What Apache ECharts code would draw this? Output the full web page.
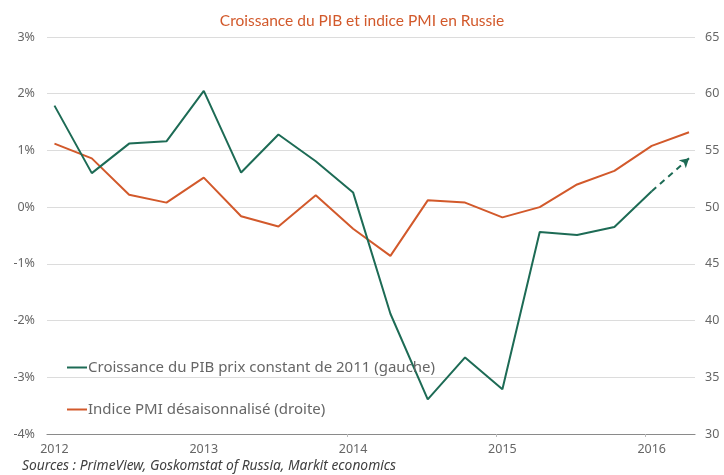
<!DOCTYPE html>
<html>
<head>
<meta charset="utf-8">
<script src="https://cdn.jsdelivr.net/npm/echarts@6/dist/echarts.min.js"></script>
<style>html,body{margin:0;padding:0;background:#fff}#c{width:724px;height:475px}</style>
</head>
<body>
<div id="c"></div>
<script>
var quarters = [2012.00, 2012.25, 2012.50, 2012.75, 2013.00, 2013.25, 2013.50, 2013.75,
                2014.00, 2014.25, 2014.50, 2014.75, 2015.00, 2015.25, 2015.50, 2015.75,
                2016.00, 2016.25];
var gdp = [1.79, 0.60, 1.12, 1.16, 2.05, 0.61, 1.28, 0.81,
           0.26, -1.88, -3.39, -2.65, -3.21, -0.44, -0.49, -0.35,
           0.28, null];
var gdpProjection = 0.86;
var pmi = [55.6, 54.3, 51.1, 50.4, 52.6, 49.2, 48.3, 51.05,
           48.1, 45.7, 50.6, 50.4, 49.1, 50.0, 52.0, 53.2,
           55.4, 56.6];
var yearLabels = [2012, 2013, 2014, 2015, 2016];
var seriesNames = ['Croissance du PIB prix constant de 2011 (gauche)', 'Indice PMI désaisonnalisé (droite)'];
var titleText = 'Croissance du PIB et indice PMI en Russie';
var sourceText = 'Sources : PrimeView, Goskomstat of Russia, Markit economics';

var GREEN = '#1d6b55', ORANGE = '#d2592b', GREY = '#666666';
function pairs(xs, ys) { return xs.map(function (x, i) { return [x, ys[i]]; }); }

var chart = echarts.init(document.getElementById('c'), null, {renderer: 'canvas'});
chart.setOption({
  animation: false,
  title: {
    text: titleText, left: 'center', top: 8,
    textStyle: {color: ORANGE, fontSize: 15.5, fontWeight: 'normal', fontFamily: 'Lato'}
  },
  grid: {left: 47, right: 29, top: 37, bottom: 41, containLabel: false},
  legend: {
    orient: 'vertical', left: 62, top: 355, itemGap: 27,
    itemWidth: 20, itemHeight: 2, icon: 'rect',
    textStyle: {color: GREY, fontSize: 15, fontFamily: 'Noto Sans', padding: [0, 0, 0, -4]},
    data: seriesNames
  },
  graphic: [{
    type: 'text', left: 22, top: 459,
    style: {text: sourceText, fill: '#404040', font: 'italic 13.8px "Noto Sans"'}
  }],
  xAxis: [{
    type: 'value', min: 2011.95, max: 2016.29,
    axisLine: {show: false}, axisTick: {show: false}, splitLine: {show: false},
    axisLabel: {
      customValues: yearLabels, color: GREY, fontSize: 12.5, fontFamily: 'Noto Sans', margin: 9,
      formatter: function (v) { return String(Math.round(v)); }
    }
  }, {
    type: 'value', min: 2011.95, max: 2016.29, position: 'bottom',
    axisLine: {show: true, onZero: true, lineStyle: {color: '#8a8a8a', width: 1.2}},
    axisTick: {show: true, customValues: [2013.96, 2014.96, 2015.96], length: 3, inside: false, lineStyle: {color: '#bbbbbb'}},
    axisLabel: {show: false}, splitLine: {show: false}
  }],
  yAxis: [{
    type: 'value', min: -4, max: 3, interval: 1, position: 'left',
    axisLine: {show: false}, axisTick: {show: false},
    axisLabel: {color: GREY, fontSize: 12.5, fontFamily: 'Noto Sans', margin: 12,
      formatter: function (v) { return v + '%'; }},
    splitLine: {lineStyle: {color: '#dcdcdc', width: 1}}
  }, {
    type: 'value', min: 30, max: 65, interval: 5, position: 'right',
    axisLine: {show: false}, axisTick: {show: false},
    axisLabel: {color: GREY, fontSize: 12.5, fontFamily: 'Noto Sans', margin: 10},
    splitLine: {show: false}
  }],
  series: [{
    name: seriesNames[0], type: 'line', xAxisIndex: 0, yAxisIndex: 0,
    data: pairs(quarters, gdp), symbol: 'none', color: GREEN,
    lineStyle: {color: GREEN, width: 2}, z: 3,
    markLine: {
      silent: true, symbol: ['none', 'arrow'], symbolSize: [8, 9],
      label: {show: false},
      lineStyle: {color: GREEN, type: [6, 5], width: 2},
      data: [[{coord: [quarters[16], gdp[16]]}, {coord: [quarters[17], gdpProjection]}]]
    }
  }, {
    name: seriesNames[1], type: 'line', xAxisIndex: 0, yAxisIndex: 1,
    data: pairs(quarters, pmi), symbol: 'none', color: ORANGE,
    lineStyle: {color: ORANGE, width: 2}, z: 2
  }]
});
</script>
</body>
</html>
